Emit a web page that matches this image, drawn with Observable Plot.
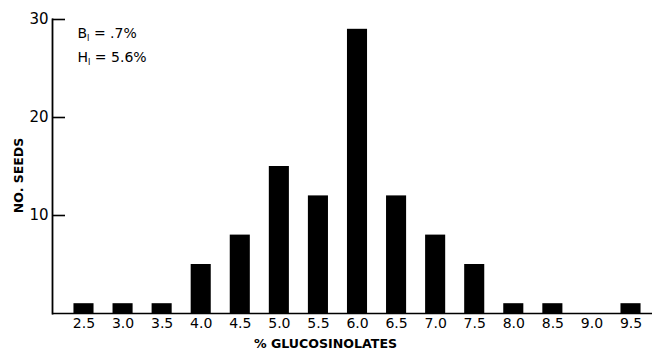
<!DOCTYPE html>
<html>
<head>
<meta charset="utf-8">
<script src="https://cdn.jsdelivr.net/npm/d3@7"></script>
<script src="https://cdn.jsdelivr.net/npm/@observablehq/plot@0.6"></script>
<style>
  html, body { margin: 0; padding: 0; background: #fff; }
  #chart svg { display: block; }
</style>
</head>
<body>
<div id="chart"></div>
<script>
// Data
const glucosinolates = [2.5, 3.0, 3.5, 4.0, 4.5, 5.0, 5.5, 6.0, 6.5, 7.0, 7.5, 8.0, 8.5, 9.0, 9.5];
const seeds          = [1,   1,   1,   5,   8,   15,  12,  29,  12,  8,   5,   1,   1,   0,   1];
const xTickLabels    = ["2.5","3.0","3.5","4.0","4.5","5.0","5.5","6.0","6.5","7.0","7.5","8.0","8.5","9.0","9.5"];
const yTicks         = [10, 20, 30];
const yTickLabels    = ["10", "20", "30"];
const xTitle = "% GLUCOSINOLATES";
const yTitle = "NO. SEEDS";
const noteMain = ["B", "H"];
const noteSub  = ["I", "I"];
const noteRest = [" = .7%", " = 5.6%"];

const table = glucosinolates.map((g, i) => ({g, n: seeds[i]}));
const FONT = "'DejaVu Sans', Verdana, sans-serif";

const noteMark = (i, dy) => Plot.text([noteMain[i] + noteSub[i] + noteRest[i]], {
  frameAnchor: "top-left", textAnchor: "start", lineAnchor: "bottom",
  dx: 25, dy, fontSize: 14, className: "note-" + i
});

const plot = Plot.plot({
  width: 655,
  height: 352,
  marginLeft: 52,
  marginRight: 3,
  marginTop: 19,
  marginBottom: 39,
  style: {fontFamily: FONT, color: "#000", background: "#fff"},
  x: {domain: [2.097, 9.775], axis: null},
  y: {domain: [0, 30], axis: null},
  marks: [
    Plot.rectY(table.filter(d => d.n > 0), {
      x1: d => d.g - 0.25, x2: d => d.g + 0.25, y: "n",
      insetLeft: 9.5, insetRight: 9.5, fill: "#000"
    }),
    Plot.ruleY([0], {stroke: "#000", strokeWidth: 1.5}),
    Plot.frame({anchor: "left", stroke: "#000", strokeWidth: 1.8}),
    Plot.axisX(glucosinolates, {
      tickSize: 0, tickPadding: 5, fontSize: 14,
      tickFormat: d => xTickLabels[glucosinolates.indexOf(d)],
      label: null
    }),
    // inward tick marks on the y axis
    Plot.tickY(yTicks, {y: d => d, insetRight: 587, stroke: "#000", strokeWidth: 1.6}),
    Plot.axisY(yTicks, {
      tickSize: 0, tickPadding: 4, fontSize: 15,
      tickFormat: d => yTickLabels[yTicks.indexOf(d)],
      label: null
    }),
    Plot.text([xTitle], {frameAnchor: "bottom", textAnchor: "middle", dx: -27, dy: 34, fontSize: 12.6, fontWeight: "bold", lineAnchor: "bottom"}),
    Plot.text([yTitle], {frameAnchor: "left", textAnchor: "middle", rotate: -90, dx: -34, dy: 9, fontSize: 12.5, fontWeight: "bold"}),
    noteMark(0, 18),
    noteMark(1, 42)
  ]
});

// subscripts as tspans (text stays real text)
[0, 1].forEach(i => {
  d3.select(plot).selectAll(".note-" + i + " text").each(function() {
    const sel = d3.select(this);
    sel.text(null);
    sel.append("tspan").text(noteMain[i]);
    sel.append("tspan").text(noteSub[i]).attr("font-size", 8).attr("dy", 3);
    sel.append("tspan").text(noteRest[i]).attr("dy", -3);
  });
});

document.getElementById("chart").appendChild(plot);
</script>
</body>
</html>
